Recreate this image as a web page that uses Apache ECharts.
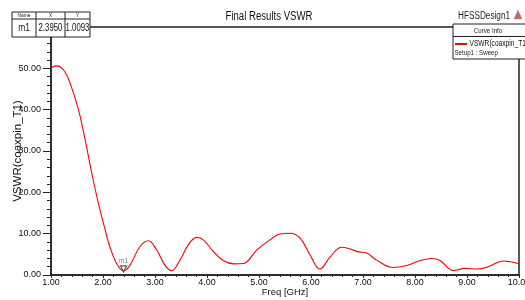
<!DOCTYPE html>
<html lang="en">
<head>
    <meta charset="UTF-8">
    <title>Final Results VSWR</title>
    <script src="https://cdn.jsdelivr.net/npm/echarts@6/dist/echarts.min.js"></script>
    <style>
        html, body { margin: 0; padding: 0; background: #fff; }
    </style>
</head>
<body>
    <div id="main" style="width: 525px;height:300px;"></div>
</body>

<script>
    // 数据定义区
    var freqGHz = [1.00, 1.10, 1.24, 1.37, 1.53, 1.65, 1.78, 1.91, 2.03, 2.13, 2.26, 2.395, 2.52, 2.71, 2.87,
        3.03, 3.19, 3.32, 3.48, 3.64, 3.80, 3.93, 4.12, 4.31, 4.51, 4.70, 4.96, 5.21, 5.40, 5.60, 5.79,
        5.98, 6.17, 6.37, 6.59, 6.75, 6.91, 7.07, 7.26, 7.58, 7.84, 8.10, 8.32, 8.48, 8.74, 8.96, 9.19,
        9.41, 9.70, 9.83, 10.00];
    var vswr = [50.1, 50.6, 49.6, 46.3, 39.9, 33.1, 24.9, 17.4, 11.5, 6.9, 2.8, 1.01, 2.4, 6.9, 8.3,
        6.1, 2.4, 1.05, 3.6, 7.3, 9.1, 8.5, 5.7, 3.5, 2.7, 2.8, 6.1, 8.5, 9.9, 10.1, 8.9,
        4.9, 1.45, 4.4, 6.7, 6.3, 5.6, 5.3, 3.6, 1.8, 2.3, 3.5, 4.0, 3.5, 1.05, 1.6, 1.45,
        2.0, 3.4, 3.2, 2.7];
    var markerName = 'm1';
    var markerFreq = 2.3950;
    var markerVswr = 1.0093;
    var seriesName = 'VSWR(coaxpin_T1)';
    var font = "'Liberation Sans', Arial, sans-serif";

    var lineData = freqGHz.map(function (f, i) { return [f, vswr[i]]; });

    // 窄字体文本（用 scaleX 压缩）
    function txt(x, y, text, size, align, sx, color) {
        return {
            type: 'text', x: x, y: y, scaleX: sx || 0.82, z: 100,
            style: {
                text: text, fontFamily: font, fontSize: size, fill: color || '#111',
                align: align || 'center', verticalAlign: 'middle'
            }
        };
    }
    function ln(x1, y1, x2, y2, color, w) {
        return { type: 'line', z: 100, shape: { x1: x1, y1: y1, x2: x2, y2: y2 }, style: { stroke: color || '#222', lineWidth: w || 1 } };
    }

    var myChart = echarts.init(document.getElementById('main'));

    var option = {
        animation: false,
        grid: {
            left: 51, right: 6, top: 27, bottom: 25,
            outerBoundsMode: 'none',
            containLabel: false,
            show: true,
            borderColor: '#222',
            borderWidth: 1.5
        },
        xAxis: {
            type: 'value',
            min: 1, max: 10, interval: 1,
            name: 'Freq [GHz]',
            nameLocation: 'middle',
            nameGap: 12,
            nameMoveOverlap: false,
            nameTextStyle: { fontFamily: font, fontSize: 9.5, color: '#111' },
            axisLine: { lineStyle: { color: '#222', width: 1.5 } },
            axisTick: { length: 3, lineStyle: { color: '#222' } },
            minorTick: { show: true, splitNumber: 5, length: 2, lineStyle: { color: '#222' } },
            splitLine: { show: false },
            axisLabel: {
                margin: 3,
                fontFamily: font, fontSize: 9, color: '#111',
                formatter: function (v) { return v.toFixed(2); }
            }
        },
        yAxis: {
            type: 'value',
            min: 0, max: 60, interval: 10,
            name: 'VSWR(coaxpin_T1)',
            nameLocation: 'middle',
            nameGap: 27,
            nameMoveOverlap: false,
            nameTextStyle: { fontFamily: font, fontSize: 11.5, color: '#111' },
            axisLine: { show: true, lineStyle: { color: '#222', width: 1.5 } },
            axisTick: { show: true, length: 8, lineStyle: { color: '#222' } },
            minorTick: { show: true, splitNumber: 5, length: 4, lineStyle: { color: '#222' } },
            splitLine: { show: false },
            axisLabel: {
                margin: 10,
                fontFamily: font, fontSize: 9, color: '#111',
                formatter: function (v) { return v === 60 ? '' : v.toFixed(2); }
            }
        },
        series: [{
            name: seriesName,
            type: 'line',
            data: lineData,
            smooth: 0.4,
            showSymbol: false,
            lineStyle: { color: '#ff0000', width: 1.1 },
            itemStyle: { color: '#ff0000' }
        }, {
            name: markerName,
            type: 'scatter',
            data: [[markerFreq, markerVswr]],
            symbol: 'triangle',
            symbolRotate: 180,
            symbolSize: 6,
            symbolOffset: [0, -2],
            itemStyle: { color: '#fff', borderColor: '#333', borderWidth: 1.2 },
            label: {
                show: true, position: 'top', distance: 1,
                formatter: markerName,
                fontFamily: font, fontSize: 6.5, color: '#555'
            },
            z: 5
        }],
        graphic: [
            // 标题
            txt(269, 17, 'Final Results VSWR', 12, 'center', 0.8),
            txt(510, 16, 'HFSSDesign1', 10, 'right', 0.82, '#222'),
            {
                type: 'polygon', z: 100,
                shape: { points: [[518, 10], [514, 19], [522, 19]] },
                style: { fill: '#c66', stroke: '#999', lineWidth: 0.5 }
            },
            // marker 表格
            {
                type: 'rect', z: 99, shape: { x: 12, y: 12, width: 78, height: 25 },
                style: { fill: '#fff', stroke: '#222', lineWidth: 1 }
            },
            ln(12, 19, 90, 19),
            ln(36, 12, 36, 37),
            ln(65, 12, 65, 37),
            txt(24, 15.5, 'Name', 6, 'center', 0.8, '#222'),
            txt(50.5, 15.5, 'X', 6, 'center', 0.8, '#222'),
            txt(77.5, 15.5, 'Y', 6, 'center', 0.8, '#222'),
            txt(24, 28.5, markerName, 10.5, 'center', 0.8),
            txt(50.5, 28.5, markerFreq.toFixed(4), 10.5, 'center', 0.74),
            txt(77.5, 28.5, markerVswr.toFixed(4), 10.5, 'center', 0.74),
            // Curve Info 图例框
            {
                type: 'rect', z: 99, shape: { x: 453, y: 24, width: 76, height: 35 },
                style: { fill: '#fff', stroke: '#222', lineWidth: 1 }
            },
            ln(453, 36.5, 529, 36.5),
            txt(488, 30.5, 'Curve Info', 7.5, 'center', 0.82, '#222'),
            ln(455, 44, 467, 44, '#ff0000', 2),
            txt(469.5, 44, seriesName, 8.5, 'left', 0.78, '#111'),
            txt(454.5, 53, 'Setup1 : Sweep', 7.5, 'left', 0.82, '#222')
        ]
    };

    myChart.setOption(option);
</script>
</html>
